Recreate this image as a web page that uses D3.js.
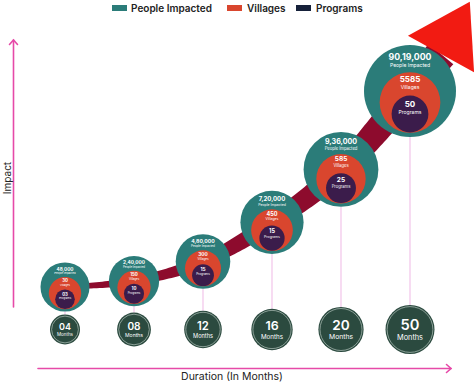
<!DOCTYPE html>
<html>
<head>
<meta charset="utf-8">
<script src="https://cdn.jsdelivr.net/npm/d3@7"></script>
<style>
  body { margin: 0; background: #fff; }
  svg { display: block; font-family: Inter, "Open Sans", sans-serif; }
</style>
</head>
<body>
<svg id="chart" width="474" height="386"></svg>
<script>

// data
var months = ["04", "08", "12", "16", "20", "50"];
var people = ["48,000", "2,40,000", "4,80,000", "7,20,000", "9,36,000", "90,19,000"];
var villages = ["30", "150", "300", "450", "585", "5585"];
var programs = ["03", "10", "15", "15", "25", "50"];
// relative height on the (unscaled) impact axis, 0-100
var impact = [0, 3, 13, 33, 60, 100];

var legendItems = ["People Impacted", "Villages", "Programs"];

// colours
var teal = "#2b7c79", red = "#d9462e", purple = "#3b1c4b",
    navy = "#16213a", band = "#8d0b2d", arrowRed = "#f21b12",
    monthFill = "#2b4a3f", pink = "#e64aa8", connector = "#f2c4ea";

var rows = months.map(function(m, i) {
  return {month: m, people: people[i], villages: villages[i], programs: programs[i], impact: impact[i], i: i};
});

var svg = d3.select("#chart");

// scales
var x = d3.scalePoint().domain(months).range([65, 410]);
var y = d3.scaleLinear().domain([0, 100]).range([287, 91]);
var r = d3.scaleLinear().domain([0, 100]).range([24.5, 46]);
var rMonth = d3.scaleLinear().domain([0, months.length - 1]).range([15, 24.5]);
var monthY = 329.5;

/////////////////////////////
// axes (plain arrows, no ticks)
/////////////////////////////
var axisG = svg.append("g")
  .attr("stroke", pink)
  .attr("stroke-width", 1.6)
  .attr("fill", "none")
  .attr("stroke-linecap", "round");

axisG.append("line").attr("x1", 13.5).attr("x2", 13.5).attr("y1", 307).attr("y2", 40);
axisG.append("polyline").attr("points", "9.5,44.5 13.5,40 17.5,44.5");
axisG.append("line").attr("x1", 38).attr("x2", 451).attr("y1", 368.5).attr("y2", 368.5);
axisG.append("polyline").attr("points", "446.5,364.5 451,368.5 446.5,372.5");

svg.append("text")
  .attr("transform", "translate(7,178) rotate(-90)")
  .attr("text-anchor", "middle")
  .attr("dominant-baseline", "central")
  .style("font-size", "10px")
  .style("fill", "#222")
  .text("Impact");

svg.append("text")
  .attr("x", 232)
  .attr("y", 380)
  .attr("text-anchor", "middle")
  .style("font-size", "10.5px")
  .style("fill", "#222")
  .text("Duration (In Months)");

/////////////////////////////
// connectors bubble -> month
/////////////////////////////
svg.selectAll(".connector")
  .data(rows)
  .enter()
  .append("line")
  .attr("class", "connector")
  .attr("x1", function(d) { return x(d.month); })
  .attr("x2", function(d) { return x(d.month); })
  .attr("y1", function(d) { return y(d.impact) + r(d.impact); })
  .attr("y2", function(d) { return monthY - rMonth(d.i); })
  .attr("stroke", connector)
  .attr("stroke-width", 1.2);

/////////////////////////////
// growth band with widening width
/////////////////////////////
var endPt = [441, 54];
var pts = rows.map(function(d) { return [x(d.month), y(d.impact)]; });
pts.push(endPt);

var guide = svg.append("path")
  .attr("d", d3.line().curve(d3.curveCatmullRom.alpha(0.5))(pts))
  .attr("fill", "none")
  .attr("stroke", "none");

var node = guide.node();
var total = node.getTotalLength();
var n = 160, samples = [];
for (var k = 0; k <= n; k++) {
  var p = node.getPointAtLength(total * k / n);
  samples.push([p.x, p.y, k / n]);
}
var leftSide = [], rightSide = [];
samples.forEach(function(s, k) {
  var a = samples[Math.max(0, k - 1)], b = samples[Math.min(n, k + 1)];
  var dx = b[0] - a[0], dy = b[1] - a[1], len = Math.sqrt(dx * dx + dy * dy) || 1;
  var nx = -dy / len, ny = dx / len;
  var w = (4 + 28 * s[2]) / 2;
  leftSide.push([s[0] + nx * w, s[1] + ny * w]);
  rightSide.push([s[0] - nx * w, s[1] - ny * w]);
});
guide.remove();

svg.append("path")
  .attr("d", "M" + leftSide.concat(rightSide.reverse()).join("L") + "Z")
  .attr("fill", band);

// arrow head
var dir = [0.48, -0.87], nrm = [0.87, 0.48], half = 38, headLen = 60;
var head = [
  [endPt[0] + nrm[0] * half, endPt[1] + nrm[1] * half],
  [endPt[0] + dir[0] * headLen, endPt[1] + dir[1] * headLen],
  [endPt[0] - nrm[0] * half, endPt[1] - nrm[1] * half]
];
svg.append("path")
  .attr("d", "M" + head.join("L") + "Z")
  .attr("fill", arrowRed);

/////////////////////////////
// nested bubbles
/////////////////////////////
var bubbles = svg.selectAll(".bubble")
  .data(rows)
  .enter()
  .append("g")
  .attr("class", "bubble")
  .attr("transform", function(d) { return "translate(" + x(d.month) + "," + y(d.impact) + ")"; });

bubbles.append("circle")
  .attr("r", function(d) { return r(d.impact); })
  .attr("fill", teal);

bubbles.append("circle")
  .attr("cy", function(d) { return r(d.impact) * 0.25; })
  .attr("r", function(d) { return r(d.impact) * 0.66; })
  .attr("fill", red);

bubbles.append("circle")
  .attr("cy", function(d) { return r(d.impact) * 0.5; })
  .attr("r", function(d) { return r(d.impact) * 0.4; })
  .attr("fill", purple);

var labelSpec = [
  {key: "people", off: -0.75, size: 0.19, weight: 700},
  {text: "People Impacted", off: -0.56, size: 0.11, weight: 400},
  {key: "villages", off: -0.27, size: 0.175, weight: 700},
  {text: "Villages", off: -0.095, size: 0.11, weight: 400},
  {key: "programs", off: 0.29, size: 0.175, weight: 700},
  {text: "Programs", off: 0.465, size: 0.11, weight: 400}
];

labelSpec.forEach(function(spec) {
  bubbles.append("text")
    .attr("text-anchor", "middle")
    .attr("dominant-baseline", "central")
    .attr("y", function(d) { return r(d.impact) * spec.off; })
    .style("font-size", function(d) { return (r(d.impact) * spec.size) + "px"; })
    .style("font-weight", spec.weight)
    .style("fill", "#fff")
    .text(function(d) { return spec.key ? d[spec.key] : spec.text; });
});

/////////////////////////////
// month circles
/////////////////////////////
var monthG = svg.selectAll(".month")
  .data(rows)
  .enter()
  .append("g")
  .attr("class", "month")
  .attr("transform", function(d) { return "translate(" + x(d.month) + "," + monthY + ")"; });

monthG.append("circle")
  .attr("r", function(d) { return rMonth(d.i); })
  .attr("fill", monthFill);

monthG.append("circle")
  .attr("r", function(d) { return rMonth(d.i) - 1.6; })
  .attr("fill", "none")
  .attr("stroke", "#c9d6d0")
  .attr("stroke-width", 0.6);

monthG.append("text")
  .attr("text-anchor", "middle")
  .attr("dominant-baseline", "central")
  .attr("y", function(d) { return -rMonth(d.i) * 0.2; })
  .style("font-size", function(d) { return (rMonth(d.i) * 0.6) + "px"; })
  .style("font-weight", 600)
  .style("fill", "#fff")
  .text(function(d) { return d.month; });

monthG.append("text")
  .attr("text-anchor", "middle")
  .attr("dominant-baseline", "central")
  .attr("y", function(d) { return rMonth(d.i) * 0.32; })
  .style("font-size", function(d) { return (rMonth(d.i) * 0.3) + "px"; })
  .style("fill", "#fff")
  .text("Months");

/////////////////////////////
// legend
/////////////////////////////
var legendColors = [teal, red, navy];
var legendX = [112, 227, 296];

var legend = svg.selectAll(".legend")
  .data(legendItems)
  .enter()
  .append("g")
  .attr("class", "legend")
  .attr("transform", function(d, i) { return "translate(" + legendX[i] + ",0)"; });

legend.append("rect")
  .attr("x", 0).attr("y", 5)
  .attr("width", 15).attr("height", 6)
  .attr("fill", function(d, i) { return legendColors[i]; });

legend.append("text")
  .attr("x", function(d, i) { return i === 0 ? 19 : 20; })
  .attr("y", 8)
  .attr("dominant-baseline", "central")
  .style("font-size", "10px")
  .style("font-weight", 600)
  .style("fill", "#222")
  .text(function(d) { return d; });

</script>
</body>
</html>
